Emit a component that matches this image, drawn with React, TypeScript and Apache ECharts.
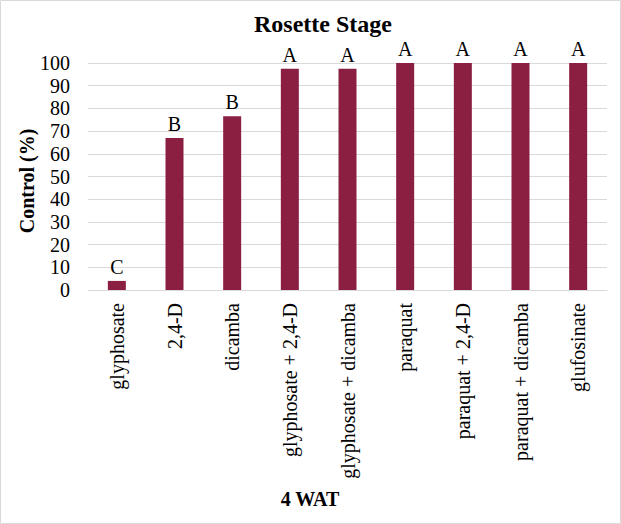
import React, { useEffect, useRef } from "react";
import * as echarts from "echarts";

const categories = [
  "glyphosate",
  "2,4-D",
  "dicamba",
  "glyphosate + 2,4-D",
  "glyphosate + dicamba",
  "paraquat",
  "paraquat + 2,4-D",
  "paraquat + dicamba",
  "glufosinate",
];
const controlValues = [4, 67, 76.5, 97.5, 97.5, 100, 100, 100, 100];
const letters = ["C", "B", "B", "A", "A", "A", "A", "A", "A"];
const yTicks = [0, 10, 20, 30, 40, 50, 60, 70, 80, 90, 100];

const FONT = "'Liberation Serif', 'Times New Roman', serif";

export default function App() {
  const ref = useRef<HTMLDivElement>(null);
  useEffect(() => {
    if (!ref.current) return;
    const chart = echarts.init(ref.current, null, { renderer: "svg" });
    chart.setOption({
      animation: false,
      backgroundColor: "#ffffff",
      title: {
        text: "Rosette Stage",
        left: 318,
        top: 7,
        textAlign: "center",
        textStyle: { fontFamily: FONT, fontSize: 24, fontWeight: "bold", color: "#000" },
      },
      grid: { left: 88, right: 14, top: 63, bottom: 234, containLabel: false },
      xAxis: {
        type: "category",
        data: categories,
        axisLine: { show: true, lineStyle: { color: "#d9d9d9", width: 1 } },
        axisTick: { show: false },
        axisLabel: {
          rotate: 90,
          interval: 0,
          margin: 13,
          fontFamily: FONT,
          fontSize: 20,
          color: "#000",
        },
      },
      yAxis: {
        type: "value",
        min: yTicks[0],
        max: yTicks[yTicks.length - 1],
        interval: 10,
        axisLine: { show: false },
        axisTick: { show: false },
        splitLine: { lineStyle: { color: "#d9d9d9", width: 1 } },
        axisLabel: { margin: 18, fontFamily: FONT, fontSize: 20, color: "#000" },
      },
      series: [
        {
          type: "bar",
          data: controlValues.map((v, i) => ({
            value: v,
            label: { formatter: letters[i] },
          })),
          barWidth: 18,
          itemStyle: { color: "#8B1F41" },
          label: {
            show: true,
            position: "top",
            distance: 4,
            fontFamily: FONT,
            fontSize: 20,
            color: "#000",
          },
        },
      ],
      graphic: [
        {
          type: "rect",
          shape: { x: 0.5, y: 0.5, width: 620, height: 523 },
          style: { fill: "none", stroke: "#d9d9d9", lineWidth: 1 },
          silent: true,
        },
        {
          type: "text",
          x: 27,
          y: 181,
          rotation: Math.PI / 2,
          style: {
            text: "Control (%)",
            fontFamily: FONT,
            fontSize: 20,
            fontWeight: "bold",
            fill: "#000",
            align: "center",
            verticalAlign: "middle",
          },
        },
        {
          type: "text",
          x: 310,
          y: 499,
          style: {
            text: "4 WAT",
            fontFamily: FONT,
            fontSize: 20,
            fontWeight: "bold",
            fill: "#000",
            align: "center",
            verticalAlign: "middle",
          },
        },
      ],
    });
    return () => chart.dispose();
  }, []);
  return (
    <div
      ref={ref}
      style={{ position: "absolute", left: 0, top: 0, width: 621, height: 524 }}
    />
  );
}
